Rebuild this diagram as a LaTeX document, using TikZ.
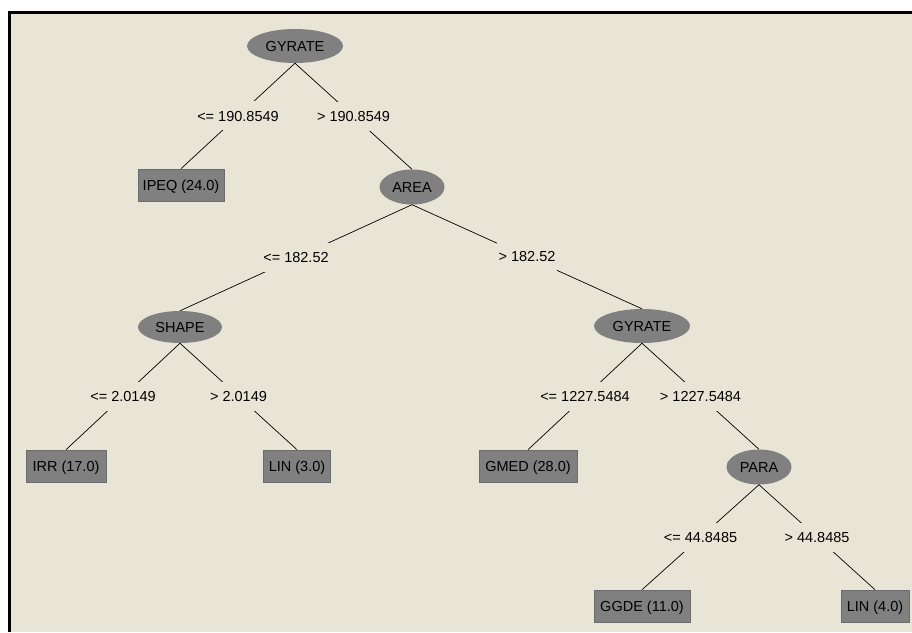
\documentclass[tikz,border=0pt]{standalone}
\usepackage{fontspec}
\setmainfont{Liberation Sans}
\usetikzlibrary{shapes.geometric}
\definecolor{bgc}{RGB}{233,229,214}
\definecolor{ndc}{RGB}{128,128,128}
\definecolor{ndb}{RGB}{108,108,108}
\begin{document}
\begin{tikzpicture}[x=1pt,y=-1pt,
  txt/.style={font=\fontsize{14.5}{16}\selectfont, text height=10.4pt, text depth=0pt, inner sep=0pt},
  split/.style={txt, ellipse, fill=ndc, minimum width=#1},
  split/.default=96pt,
  leaf/.style={txt, rectangle, fill=ndc, draw=ndb, line width=0.6pt, minimum height=32pt, minimum width=#1},
  cond/.style={txt, fill=bgc, minimum height=29pt, inner xsep=2pt},
  edge/.style={black, line width=0.7pt}]
\fill[white] (0,0) rectangle (912,632);
\fill[bgc] (11,14) rectangle (912,632);
\fill[black] (8,11) rectangle (912,14);
\fill[black] (8,11) rectangle (11,632);
\useasboundingbox (0,0) rectangle (912,632);

\node[split=96pt, minimum height=34pt] (g1) at (295,46) {GYRATE};
\node[leaf=86pt] (ipeq) at (181,185) {IPEQ (24.0)};
\node[split=65pt, minimum height=35pt] (area) at (412,187) {AREA};
\node[split=84pt, minimum height=32pt] (shape) at (180,327) {SHAPE};
\node[split=96pt, minimum height=34pt] (g2) at (642,326) {GYRATE};
\node[leaf=80pt] (irr) at (66,466) {IRR (17.0)};
\node[leaf=67pt] (lin3) at (297,466) {LIN (3.0)};
\node[leaf=98pt] (gmed) at (528,466) {GMED (28.0)};
\node[split=65pt, minimum height=35pt] (para) at (759,467) {PARA};
\node[leaf=96pt] (ggde) at (642,606) {GGDE (11.0)};
\node[leaf=68pt] (lin4) at (875,606) {LIN (4.0)};

\draw[edge] (g1.south) -- node[cond] (c1) {<= 190.8549} (ipeq.north);
\draw[edge] (g1.south) -- node[cond] (c2) {> 190.8549} (area.north);
\draw[edge] (area.south) -- node[cond] (c3) {<= 182.52} (shape.north);
\draw[edge] (area.south) -- node[cond] (c4) {> 182.52} (g2.north);
\draw[edge] (shape.south) -- node[cond] (c5) {<= 2.0149} (irr.north);
\draw[edge] (shape.south) -- node[cond] (c6) {> 2.0149} (lin3.north);
\draw[edge] (g2.south) -- node[cond] (c7) {<= 1227.5484} (gmed.north);
\draw[edge] (g2.south) -- node[cond] (c8) {> 1227.5484} (para.north);
\draw[edge] (para.south) -- node[cond] (c9) {<= 44.8485} (ggde.north);
\draw[edge] (para.south) -- node[cond] (c10) {> 44.8485} (lin4.north);
\end{tikzpicture}
\end{document}
